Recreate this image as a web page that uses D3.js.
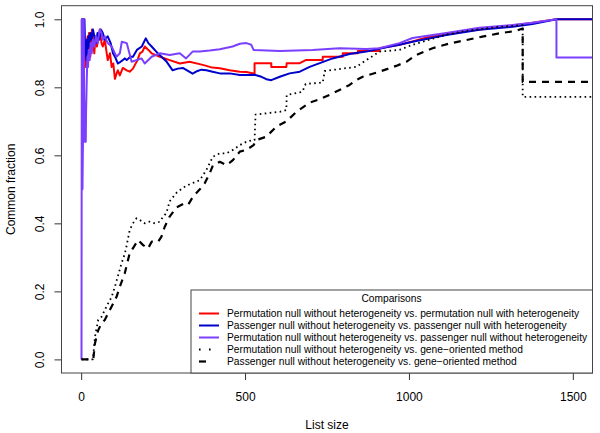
<!DOCTYPE html>
<html>
<head>
<meta charset="utf-8">
<script src="https://cdn.jsdelivr.net/npm/d3@7"></script>
<style>
  body { margin: 0; background: #fff; }
  svg { display: block; font-family: "Liberation Sans", Arial, Helvetica, sans-serif; }
</style>
</head>
<body>
<svg id="chart" width="600" height="433"></svg>
<script>
// Common fraction of the top-n lists
var redPts = [[1,1],[2,1],[3,1],[4,0.75],[5,0.8],[6,0.83],[7,0.86],[8,0.88],[9,0.89],[10,0.9],[12,0.92],[14,0.86],[16,0.88],[18,0.94],[20,0.95],[22,0.91],[24,0.96],[26,0.92],[28,0.89],[30,0.93],[33,0.97],[36,0.94],[40,0.9],[44,0.95],[48,0.92],[52,0.94],[57,0.97],[62,0.93],[66,0.92],[72,0.94],[81,0.88],[88,0.9],[93,0.86],[98,0.87],[103,0.825],[108,0.84],[112,0.85],[118,0.835],[127,0.857],[139,0.85],[148,0.846],[158,0.855],[164,0.866],[172,0.88],[179,0.9],[187,0.905],[194,0.92],[205,0.91],[215,0.9],[240,0.89],[270,0.88],[301,0.87],[331,0.875],[371,0.866],[400,0.858],[423,0.856],[453,0.85],[484,0.846],[504,0.845],[529,0.84],[529,0.871],[580,0.871],[580,0.86],[626,0.86],[627,0.871],[667,0.871],[685,0.88],[737,0.88],[737,0.89],[798,0.89],[798,0.9],[844,0.9],[844,0.907],[910,0.907],[910,0.915],[971,0.925],[1011,0.935],[1060,0.948],[1114,0.955],[1175,0.965],[1215,0.97],[1276,0.978],[1316,0.982],[1377,0.99],[1450,1],[1600,1]];
var bluePts = [[1,1],[2,1],[3,0.67],[4,0.75],[5,0.8],[6,1],[7,0.86],[8,0.88],[9,0.89],[10,1],[12,0.92],[14,0.93],[16,0.88],[18,0.94],[20,0.9],[22,0.95],[25,0.92],[28,0.96],[32,0.94],[36,0.97],[40,0.95],[45,0.93],[50,0.96],[55,0.94],[60,0.97],[66,0.96],[72,0.94],[81,0.95],[90,0.93],[97,0.9],[103,0.89],[112,0.87],[120,0.875],[127,0.88],[133,0.885],[139,0.88],[150,0.89],[158,0.89],[170,0.91],[185,0.92],[197,0.944],[205,0.93],[215,0.92],[234,0.9],[261,0.875],[279,0.85],[295,0.855],[310,0.857],[340,0.84],[355,0.848],[367,0.852],[382,0.85],[401,0.846],[423,0.841],[453,0.841],[484,0.836],[514,0.836],[529,0.837],[550,0.831],[565,0.824],[580,0.821],[606,0.831],[636,0.841],[667,0.846],[697,0.86],[728,0.871],[767,0.885],[819,0.898],[870,0.905],[931,0.918],[971,0.925],[1011,0.934],[1114,0.954],[1215,0.969],[1316,0.978],[1377,0.986],[1450,1],[1600,1]];
var purplePts = [[1,0],[2,1],[3,0.67],[4,0.5],[5,0.6],[6,0.67],[7,0.71],[8,1],[9,0.78],[10,0.7],[11,0.64],[12,0.75],[13,0.69],[14,0.64],[15,0.73],[17,0.82],[19,0.89],[21,0.86],[23,0.91],[26,0.88],[29,0.93],[32,0.9],[36,0.94],[40,0.92],[45,0.95],[50,0.93],[57,0.97],[62,0.96],[66,0.94],[72,0.95],[81,0.93],[93,0.92],[103,0.9],[108,0.89],[118,0.9],[124,0.934],[139,0.93],[154,0.875],[169,0.88],[184,0.885],[194,0.87],[215,0.89],[240,0.9],[270,0.895],[301,0.9],[320,0.885],[340,0.905],[362,0.905],[392,0.908],[423,0.912],[462,0.92],[484,0.928],[504,0.93],[519,0.925],[526,0.91],[606,0.907],[706,0.91],[788,0.915],[870,0.913],[910,0.915],[971,0.93],[1011,0.945],[1114,0.96],[1215,0.975],[1316,0.983],[1377,0.99],[1450,1],[1450,0.888],[1600,0.888]];
var dottedPts = [[1,0],[36,0],[42,0.066],[52,0.116],[62,0.125],[77,0.155],[93,0.184],[103,0.214],[113,0.248],[123,0.282],[133,0.31],[138,0.331],[148,0.38],[158,0.4],[169,0.415],[179,0.41],[194,0.4],[209,0.405],[225,0.4],[240,0.405],[250,0.42],[260,0.43],[270,0.465],[291,0.49],[311,0.505],[331,0.515],[362,0.527],[382,0.557],[402,0.596],[423,0.606],[443,0.606],[463,0.616],[484,0.63],[504,0.64],[524,0.645],[529,0.645],[532,0.72],[606,0.728],[626,0.733],[627,0.777],[675,0.787],[685,0.81],[737,0.814],[743,0.848],[798,0.855],[839,0.86],[870,0.88],[910,0.905],[971,0.91],[1011,0.925],[1114,0.955],[1175,0.966],[1276,0.978],[1347,0.983],[1347,0.772],[1600,0.772]];
var dashedPts = [[1,0],[37,0],[42,0.047],[52,0.086],[62,0.106],[72,0.116],[82,0.135],[98,0.165],[108,0.184],[118,0.214],[133,0.253],[148,0.312],[164,0.336],[174,0.351],[189,0.336],[204,0.326],[215,0.346],[235,0.346],[245,0.361],[255,0.39],[270,0.42],[291,0.447],[311,0.457],[326,0.454],[341,0.478],[362,0.5],[377,0.518],[392,0.547],[402,0.571],[423,0.581],[443,0.571],[463,0.586],[484,0.611],[504,0.616],[526,0.63],[535,0.645],[565,0.655],[595,0.684],[626,0.7],[657,0.728],[697,0.755],[722,0.763],[758,0.778],[788,0.792],[819,0.807],[839,0.821],[859,0.831],[910,0.846],[961,0.863],[992,0.875],[1022,0.895],[1072,0.915],[1124,0.929],[1175,0.939],[1224,0.949],[1276,0.959],[1327,0.966],[1347,0.973],[1347,0.816],[1600,0.816]];

var seriesNames = [
  'Permutation null without heterogeneity vs. permutation null with heterogeneity',
  'Passenger null without heterogeneity vs. passenger null with heterogeneity',
  'Permutation null without heterogeneity vs. passenger null without heterogeneity',
  'Permutation null without heterogeneity vs. gene\u2212oriented method',
  'Passenger null without heterogeneity vs. gene\u2212oriented method'
];
var xTicks = [0, 500, 1000, 1500];
var yTicks = [0, 0.2, 0.4, 0.6, 0.8, 1.0];

var series = [
  { name: seriesNames[0], pts: redPts, color: '#ff0000', width: 2, dash: null },
  { name: seriesNames[1], pts: bluePts, color: '#0000cd', width: 2, dash: null },
  { name: seriesNames[2], pts: purplePts, color: '#7a3fff', width: 2, dash: null },
  { name: seriesNames[3], pts: dottedPts, color: '#000', width: 1.8, dash: '1.6,3.4' },
  { name: seriesNames[4], pts: dashedPts, color: '#000', width: 2.2, dash: '7,6' }
];

var svg = d3.select('#chart');
var plotL = 61.5, plotR = 592.5, plotT = 5.7, plotB = 373;

var x = d3.scaleLinear().domain([-60, 1560]).range([plotL, plotR]);
var y = d3.scaleLinear().domain([-0.04, 1.04]).range([plotB, plotT]);

svg.append('clipPath').attr('id', 'plotclip')
  .append('rect')
  .attr('x', plotL).attr('y', plotT)
  .attr('width', plotR - plotL).attr('height', plotB - plotT);

var line = d3.line()
  .x(function (d) { return x(d[0]); })
  .y(function (d) { return y(d[1]); });

var plot = svg.append('g').attr('clip-path', 'url(#plotclip)');

series.forEach(function (s) {
  plot.append('path')
    .datum(s.pts)
    .attr('d', line)
    .attr('fill', 'none')
    .attr('stroke', s.color)
    .attr('stroke-width', s.width)
    .attr('stroke-linejoin', 'round')
    .attr('stroke-dasharray', s.dash);
});

// axes, R style
var xAxis = svg.append('g')
  .attr('transform', 'translate(0,' + plotB + ')')
  .call(d3.axisBottom(x).tickValues(xTicks).tickSize(7).tickPadding(12).tickFormat(d3.format('d')));
xAxis.select('.domain').remove();
xAxis.selectAll('line').attr('stroke', '#333');
xAxis.selectAll('text').attr('font-size', 12).attr('fill', '#000')
  .attr('font-family', '"Liberation Sans", Arial, sans-serif');

var yAxis = svg.append('g')
  .attr('transform', 'translate(' + plotL + ',0)')
  .call(d3.axisLeft(y).tickValues(yTicks).tickSize(7).tickFormat(d3.format('.1f')));
yAxis.select('.domain').remove();
yAxis.selectAll('line').attr('stroke', '#333');
yAxis.selectAll('text').remove();
yAxis.selectAll('.tick').append('text')
  .attr('transform', 'translate(-18,0) rotate(-90)')
  .attr('text-anchor', 'middle')
  .attr('font-size', 12)
  .attr('fill', '#000')
  .attr('font-family', '"Liberation Sans", Arial, sans-serif')
  .text(function (d) { return d3.format('.1f')(d); });

svg.append('rect')
  .attr('x', plotL).attr('y', plotT)
  .attr('width', plotR - plotL).attr('height', plotB - plotT)
  .attr('fill', 'none').attr('stroke', '#444').attr('stroke-width', 1);

svg.append('text')
  .attr('x', (plotL + plotR) / 2).attr('y', 429)
  .attr('text-anchor', 'middle').attr('font-size', 12)
  .text('List size');

svg.append('text')
  .attr('transform', 'translate(14.5,' + ((plotT + plotB) / 2) + ') rotate(-90)')
  .attr('text-anchor', 'middle').attr('font-size', 12)
  .text('Common fraction');

// legend
var lg = svg.append('g');
lg.append('rect')
  .attr('x', 191).attr('y', 290)
  .attr('width', plotR - 191).attr('height', plotB - 290)
  .attr('fill', '#fff').attr('stroke', '#444').attr('stroke-width', 1);
lg.append('text')
  .attr('x', 391.5).attr('y', 302.3)
  .attr('text-anchor', 'middle').attr('font-size', 10.2)
  .text('Comparisons');

var rows = lg.selectAll('g.row').data(series).enter().append('g')
  .attr('transform', function (d, i) { return 'translate(0,' + (313.5 + i * 12) + ')'; });
rows.append('line')
  .attr('x1', 199).attr('x2', 219).attr('y1', 0).attr('y2', 0)
  .attr('stroke', function (d) { return d.color; })
  .attr('stroke-width', function (d) { return d.width; })
  .attr('stroke-dasharray', function (d, i) { return i === 3 ? '1.6,8.4' : (i === 4 ? '7,14' : null); });
rows.append('text')
  .attr('x', 227).attr('y', 3.8)
  .attr('font-size', 10.25)
  .text(function (d) { return d.name; });
</script>
</body>
</html>
